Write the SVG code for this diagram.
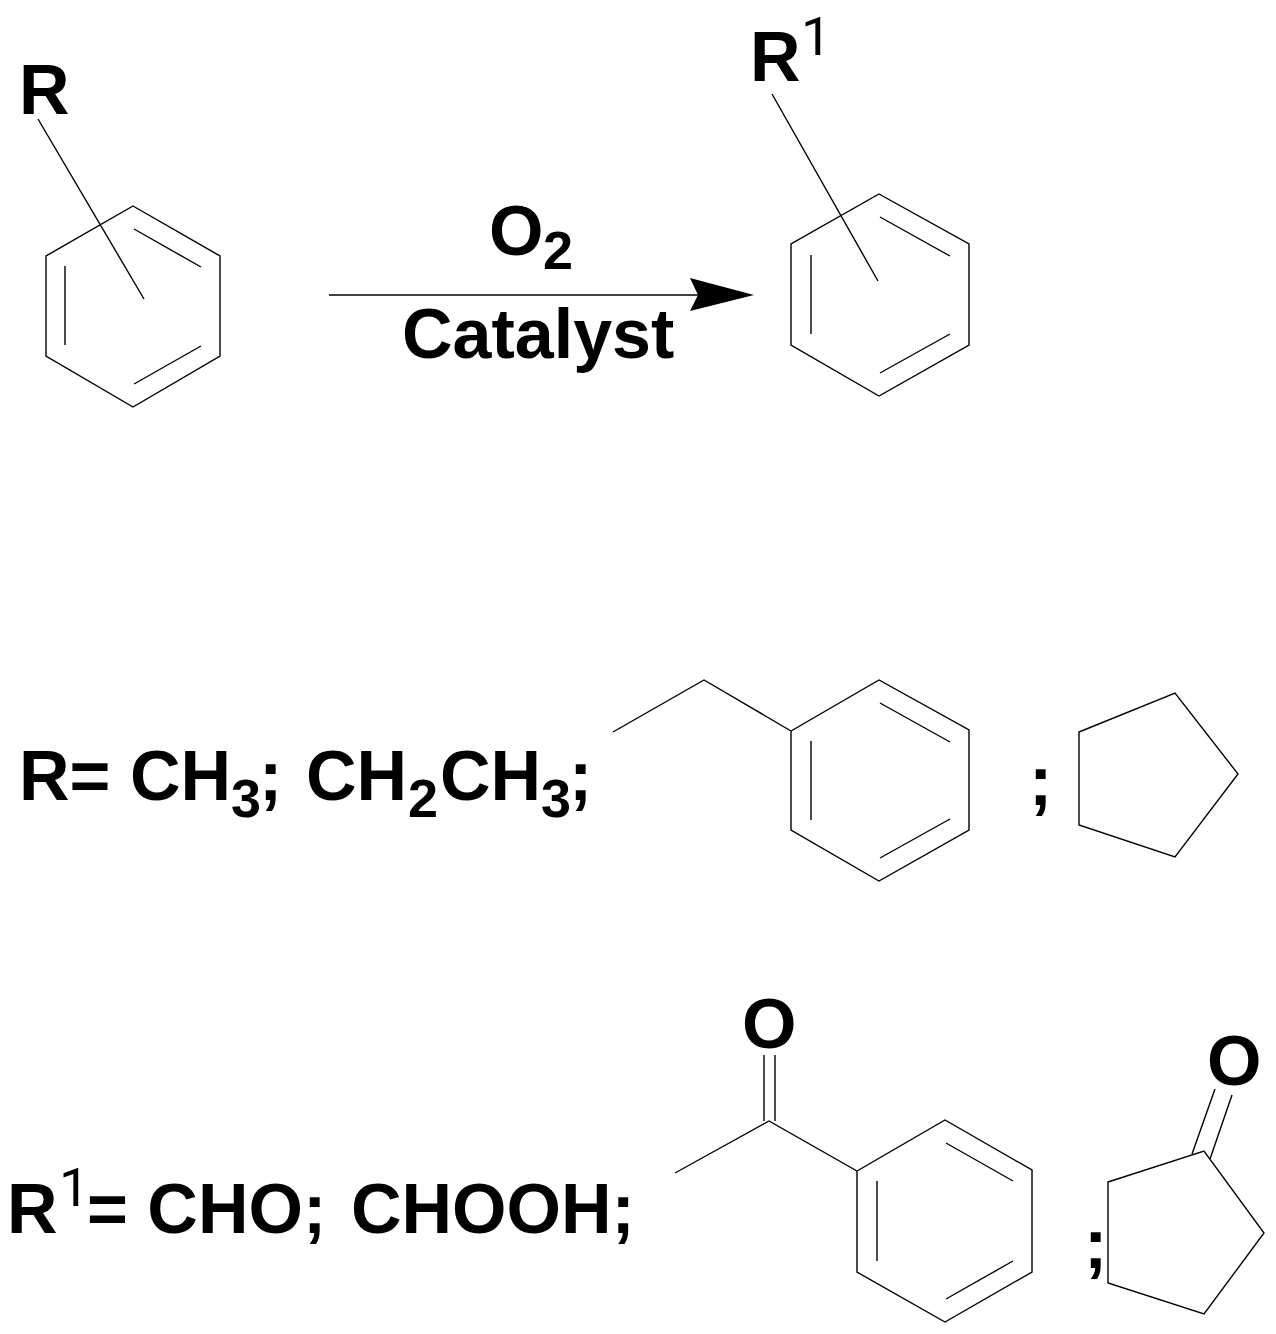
<svg xmlns="http://www.w3.org/2000/svg" width="1276" height="1334" viewBox="0 0 1276 1334">
<style>
.b{fill:none;stroke:#000;stroke-width:1.4}
.t{font-family:"Liberation Sans",Arial,sans-serif;font-weight:700;font-size:70px;fill:#000}
.s{font-size:54px}
.n{font-family:Roboto,"Liberation Sans",sans-serif;font-weight:400;font-size:54px;fill:#000}
</style>
<rect width="1276" height="1334" fill="#fff"/>
<g id="connectors">
<path class="b" d="M329 295H700"/>
<path d="M754 295L690 278L698 295L690 311Z" fill="#000"/>
</g>
<g id="reactant">
<path class="b" d="M133 206L220 256V356L133 407L46 356V256Z M134 229L201 267 M65 266V345 M134 384L201 346 M38 119L144 299"/>
<text class="t" x="19" y="114">R</text>
</g>
<g id="product">
<path class="b" d="M879 194L969 244V345L879 396L791 345V244Z M880 217L950 256 M811 255V334 M880 373L950 334 M772 94L878 281"/>
<text class="t" x="750" y="81">R</text><text class="n" x="801" y="55">1</text>
</g>
<g id="reagents">
<text class="t" x="489" y="255">O</text><text class="t s" x="543" y="269">2</text>
<text class="t" x="402" y="358">Catalyst</text>
</g>
<g id="r-def">
<text class="t" x="19" y="800">R= CH</text><text class="t s" x="231" y="817">3</text><text class="t" x="259" y="800">;</text>
<text class="t" x="306" y="800">CH</text><text class="t s" x="408" y="817">2</text><text class="t" x="440" y="800">CH</text><text class="t s" x="541" y="817">3</text><text class="t" x="569" y="800">;</text>
</g>
<g id="benzyl">
<path class="b" d="M613 732L704 680L791 731L879 680L969 730V830L879 881L791 830V731 M880 703L950 742 M811 741V820 M880 858L950 819"/>
</g>
<text class="t" x="1029" y="805">;</text>
<g id="cyclopentyl">
<path class="b" d="M1079 732L1175 693L1238 774L1175 857L1079 825Z"/>
</g>
<g id="r1-def">
<text class="t" x="7" y="1233">R</text><text class="n" x="59" y="1206">1</text><text class="t" x="87" y="1233">= CHO;</text><text class="t" x="351" y="1233">CHOOH;</text>
</g>
<g id="benzoyl">
<path class="b" d="M675 1173L769 1121L857 1171L945 1120L1032 1170V1272L945 1322L857 1272V1171 M946 1143L1013 1181 M877 1181V1261 M946 1299L1013 1261 M764 1121V1055 M775 1121V1055"/>
<text class="t" x="742" y="1048">O</text>
</g>
<text class="t" x="1084" y="1268">;</text>
<g id="cyclopentanone">
<path class="b" d="M1108 1182L1204 1151L1264 1233L1204 1314L1108 1283Z M1192 1154L1215 1089 M1210 1159L1232 1095"/>
<text class="t" x="1207" y="1085">O</text>
</g>
</svg>
